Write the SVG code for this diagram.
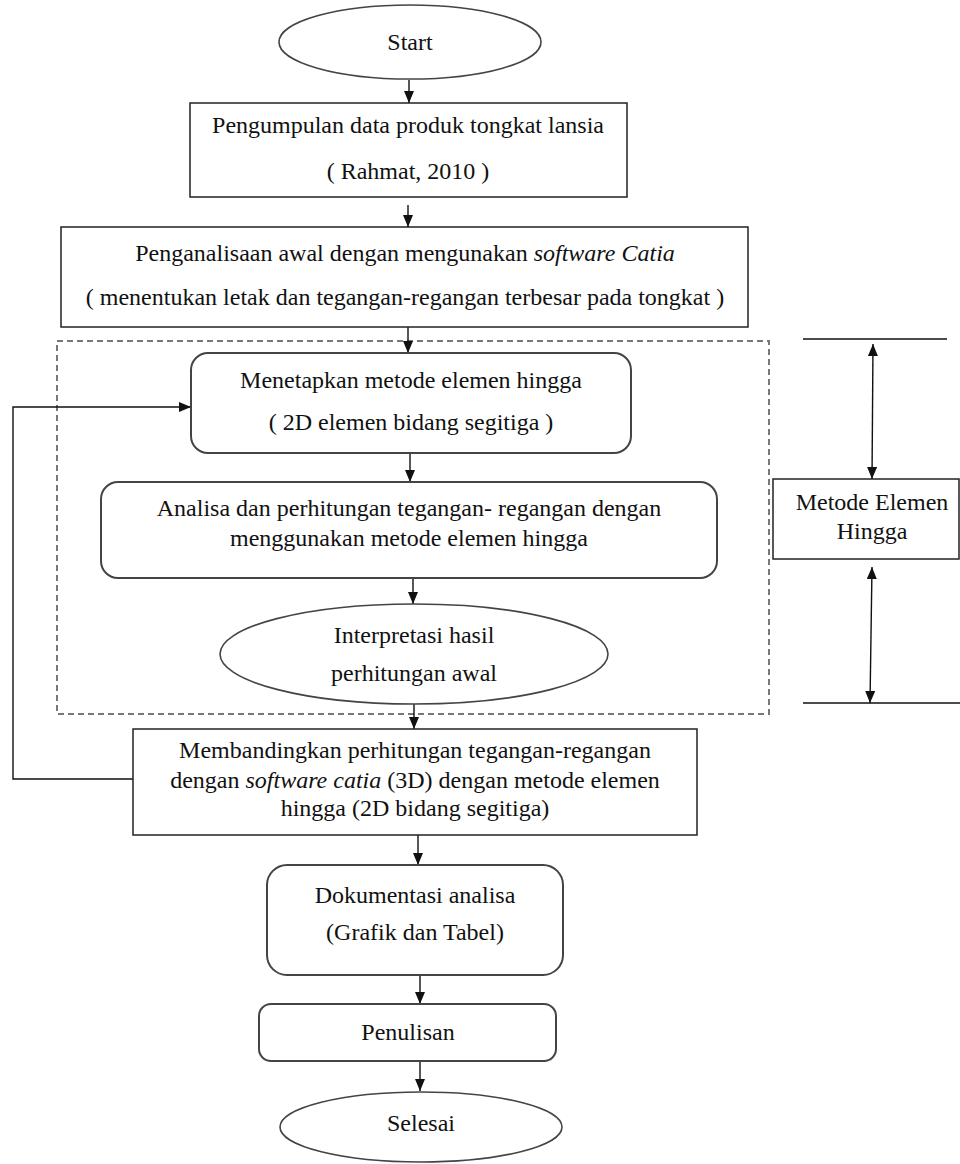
<svg xmlns="http://www.w3.org/2000/svg" width="960" height="1164" viewBox="0 0 960 1164" font-family="Liberation Serif, serif">
<style>
text{font-family:"Liberation Serif","Times New Roman",serif;font-size:24px;fill:#111;text-anchor:middle}
.it{font-style:italic}
.box{fill:#fff;stroke:#222;stroke-width:1.5}
.rbox{fill:#fff;stroke:#444;stroke-width:2}
.ell{fill:#fff;stroke:#444;stroke-width:1.6}
.con{fill:none;stroke:#111;stroke-width:1.4}
.dash{fill:none;stroke:#777;stroke-width:2;stroke-dasharray:6 4}
</style>
<defs>
<marker id="ah" viewBox="0 0 12 10" refX="12" refY="5" markerWidth="12" markerHeight="10" markerUnits="userSpaceOnUse" orient="auto-start-reverse">
<path d="M0,0 L12,5 L0,10 z" fill="#111"/>
</marker>
</defs>

<rect id="group-box" class="dash" x="57" y="341" width="712" height="373"/>

<g id="connectors">
<line class="con" x1="409" y1="80" x2="409" y2="103" marker-end="url(#ah)"/>
<line class="con" x1="408" y1="205" x2="408" y2="227" marker-end="url(#ah)"/>
<line class="con" x1="408" y1="327" x2="408" y2="353" marker-end="url(#ah)"/>
<line class="con" x1="410" y1="453" x2="410" y2="482" marker-end="url(#ah)"/>
<line class="con" x1="413" y1="578" x2="413" y2="604" marker-end="url(#ah)"/>
<line class="con" x1="414" y1="704" x2="414" y2="729" marker-end="url(#ah)"/>
<line class="con" x1="418" y1="835" x2="418" y2="865" marker-end="url(#ah)"/>
<line class="con" x1="420" y1="976" x2="420" y2="1004" marker-end="url(#ah)"/>
<line class="con" x1="420" y1="1061" x2="420" y2="1091" marker-end="url(#ah)"/>
<polyline class="con" points="133,779 13,779 13,407 191,407" marker-end="url(#ah)"/>
<line class="con" x1="803" y1="339" x2="947" y2="339"/>
<line class="con" x1="803" y1="703" x2="960" y2="703"/>
<line class="con" x1="873" y1="344" x2="872" y2="479" marker-start="url(#ah)" marker-end="url(#ah)"/>
<line class="con" x1="872" y1="567" x2="870" y2="703" marker-start="url(#ah)" marker-end="url(#ah)"/>
</g>

<g id="start">
<ellipse class="ell" cx="410" cy="42" rx="131" ry="37"/>
<text x="410" y="50">Start</text>
</g>

<g id="pengumpulan">
<rect class="box" x="190" y="103" width="437" height="94"/>
<text x="408" y="133">Pengumpulan data produk tongkat lansia</text>
<text x="408" y="179">( Rahmat, 2010 )</text>
</g>

<g id="penganalisaan">
<rect class="box" x="61" y="227" width="687" height="100"/>
<text x="405" y="261">Penganalisaan awal dengan mengunakan <tspan class="it">software Catia</tspan></text>
<text x="405" y="305">( menentukan letak dan tegangan-regangan terbesar pada tongkat )</text>
</g>

<g id="menetapkan">
<rect class="rbox" x="191" y="353" width="440" height="100" rx="17"/>
<text x="411" y="388">Menetapkan metode elemen hingga</text>
<text x="411" y="430">( 2D elemen bidang segitiga )</text>
</g>

<g id="analisa">
<rect class="rbox" x="101" y="482" width="616" height="96" rx="17"/>
<text x="409" y="516">Analisa dan perhitungan tegangan- regangan dengan</text>
<text x="409" y="546">menggunakan metode elemen hingga</text>
</g>

<g id="interpretasi">
<ellipse class="ell" cx="414" cy="654" rx="194" ry="50"/>
<text x="414" y="643">Interpretasi hasil</text>
<text x="414" y="681">perhitungan awal</text>
</g>

<g id="membandingkan">
<rect class="box" x="133" y="729" width="564" height="106"/>
<text x="415" y="758">Membandingkan perhitungan tegangan-regangan</text>
<text x="415" y="788">dengan <tspan class="it">software catia</tspan> (3D) dengan metode elemen</text>
<text x="415" y="816">hingga (2D bidang segitiga)</text>
</g>

<g id="dokumentasi">
<rect class="rbox" x="267" y="865" width="296" height="110" rx="20"/>
<text x="415" y="903">Dokumentasi analisa</text>
<text x="415" y="940">(Grafik dan Tabel)</text>
</g>

<g id="penulisan">
<rect class="rbox" x="259" y="1004" width="297" height="57" rx="12"/>
<text x="408" y="1040">Penulisan</text>
</g>

<g id="selesai">
<ellipse class="ell" cx="421" cy="1127" rx="141" ry="35"/>
<text x="421" y="1131">Selesai</text>
</g>

<g id="metode-elemen-hingga">
<rect class="box" x="773" y="479" width="186" height="80"/>
<text x="872" y="510">Metode Elemen</text>
<text x="872" y="539">Hingga</text>
</g>
</svg>
